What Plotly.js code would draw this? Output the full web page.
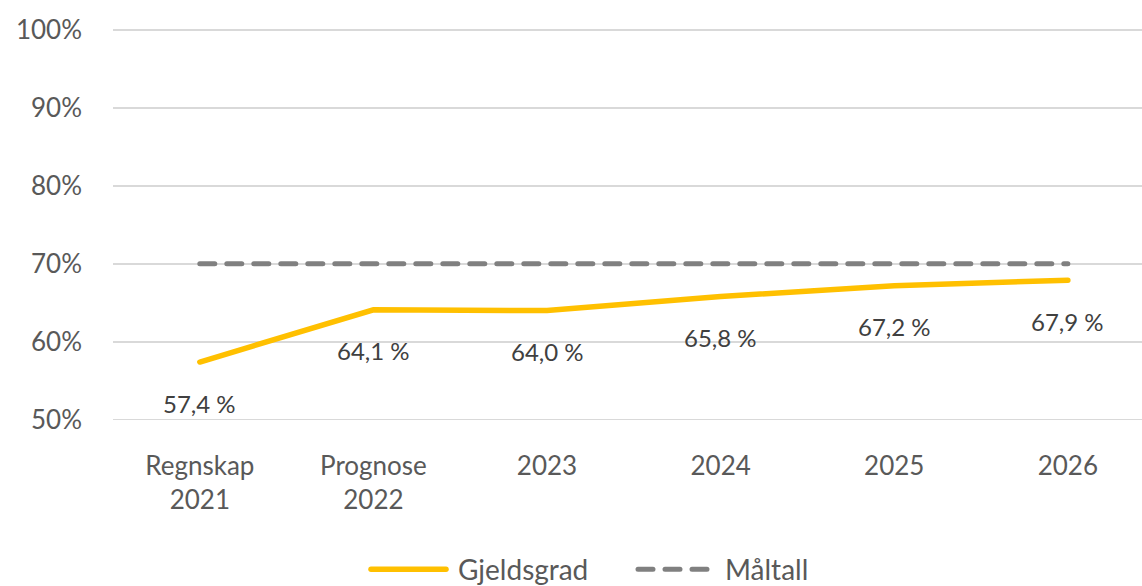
<!DOCTYPE html>
<html><head><meta charset="utf-8">
<script src="https://cdn.plot.ly/plotly-3.0.1.min.js"></script>
<style>body{margin:0;background:#fff}#c{width:1142px;height:586px}
.scatterlayer path.js-line, .legend path.js-line{stroke-linecap:round}</style>
</head><body><div id="c"></div>
<script>
const categories = ["Regnskap<br>2021", "Prognose<br>2022", "2023", "2024", "2025", "2026"];
const gjeldsgrad = [57.4, 64.1, 64.0, 65.8, 67.2, 67.9];
const maltall = [70, 70, 70, 70, 70, 70];
const yTicks = [50, 60, 70, 80, 90, 100];
const yTickText = ["50%", "60%", "70%", "80%", "90%", "100%"];

const FONT = "Lato, 'Open Sans', sans-serif";
const xs = categories.map((_, i) => i);

const traces = [
  {x: xs, y: gjeldsgrad, type: "scatter", mode: "lines", name: "Gjeldsgrad",
   line: {color: "#FFC000", width: 5.5}, hoverinfo: "skip"},
  {x: xs, y: maltall, type: "scatter", mode: "lines", name: "Måltall",
   line: {color: "#808080", width: 5, dash: "15px,12px"}, hoverinfo: "skip"}
];

const annotations = gjeldsgrad.map((v, i) => ({
  x: i, y: v, xref: "x", yref: "y", yshift: -41, showarrow: false,
  text: v.toFixed(1).replace(".", ",") + " %",
  font: {family: FONT, size: 24, color: "#404040"}
}));

const layout = {
  width: 1142, height: 586,
  margin: {l: 113, r: 0, t: 27, b: 164},
  paper_bgcolor: "#fff", plot_bgcolor: "#fff",
  showlegend: true,
  legend: {orientation: "h", xref: "container", yref: "container", x: 368 / 1142, xanchor: "left",
           y: 0.028, yanchor: "middle", entrywidth: 172,
           font: {family: FONT, size: 28, color: "#595959"}, itemwidth: 80, traceorder: "normal"},
  xaxis: {type: "linear", range: [-0.5, 5.427], tickvals: xs, ticktext: categories,
          showgrid: false, zeroline: false, showline: false, ticks: "", automargin: false,
          tickfont: {family: FONT, size: 26, color: "#595959"}, ticklabelstandoff: 26},
  yaxis: {range: [49.7, 100.4], tickvals: yTicks, ticktext: yTickText, automargin: false,
          showgrid: true, gridcolor: "#d9d9d9", gridwidth: 1.5, zeroline: false, showline: false,
          ticks: "", tickfont: {family: FONT, size: 26, color: "#595959"}, ticklabelstandoff: 30},
  annotations: annotations
};
Plotly.newPlot("c", traces, layout, {staticPlot: true, displayModeBar: false}).then(() => {
  document.querySelectorAll(".legend .legendlines path").forEach(p => p.setAttribute("d", "M3,0h75"));
});
</script></body></html>
